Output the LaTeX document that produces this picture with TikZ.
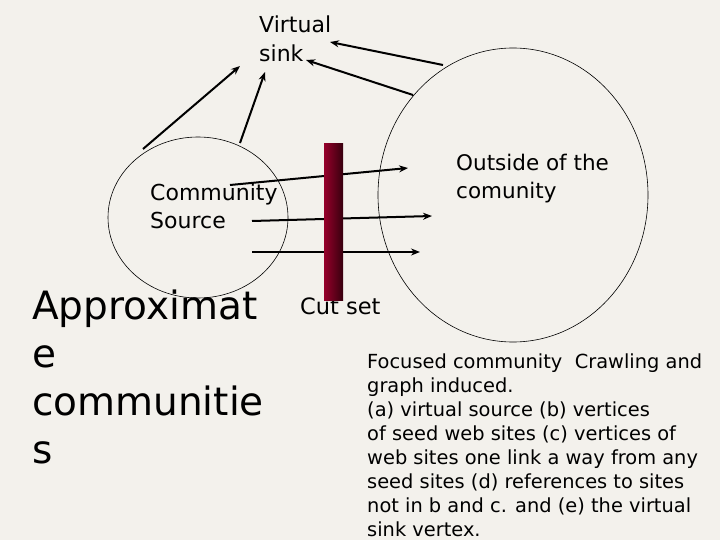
\documentclass[tikz,border=0pt]{standalone}
\usepackage{fontspec}
\setmainfont{DejaVu Sans}
\usetikzlibrary{shapes.geometric,arrows.meta}
\definecolor{bg}{HTML}{F3F1EC}
\definecolor{barL}{RGB}{150,0,42}
\definecolor{barR}{RGB}{55,0,14}
\tikzset{
  ring/.style={draw=black,line width=0.6pt,ellipse,inner sep=0pt},
  arr/.style={draw=black,line width=2pt,-{Stealth[length=9pt,width=7pt]}},
  lbl/.style={inner sep=0pt,anchor=base west,align=left,text=black},
}
\begin{document}
\begin{tikzpicture}[x=1pt,y=-1pt]
\fill[bg] (0,0) rectangle (720,540);
\useasboundingbox (0,0) rectangle (720,540);
% circles
\node[ring,minimum width=180pt,minimum height=161pt] (src) at (198,217.5) {};
\node[ring,minimum width=270pt,minimum height=294pt] (out) at (513,195) {};
% texts (anchored at the baseline of the last line)
\node[lbl,font=\fontsize{22}{29}\selectfont] (vs) at (259,62) {Virtual\\sink};
\node[lbl,font=\fontsize{22}{28}\selectfont] (cs) at (150,229) {Community\\Source};
\node[lbl,font=\fontsize{21.5}{28}\selectfont] (oc) at (456,199) {Outside of the\\comunity};
\node[lbl,font=\fontsize{22.5}{28}\selectfont] (cut) at (300,314) {Cut set};
\node[lbl,font=\fontsize{39}{48}\selectfont] (ap) at (32,463) {Approximat\\e\\communitie\\s};
\node[lbl,font=\fontsize{19.4}{24}\selectfont] (desc) at (367,536) {Focused community\ \ Crawling and\\graph induced.\\(a) virtual source (b) vertices\\of seed web sites (c) vertices of\\web sites one link a way from any\\seed sites (d) references to sites\\not in b and c. and (e) the virtual\\sink vertex.};
% arrow end points
\coordinate (a1s) at (143,149);
\coordinate (a1e) at (240,66);
\coordinate (a2s) at (240,143);
\coordinate (a2e) at (265,72);
\coordinate (a3s) at (443,65);
\coordinate (a3e) at (330,42);
\coordinate (a4s) at (413,95);
\coordinate (a4e) at (306,60);
\coordinate (h1s) at (230,185);
\coordinate (h1e) at (408,168);
\coordinate (h2s) at (252,221);
\coordinate (h2e) at (432,216);
\coordinate (h3s) at (252,252);
\coordinate (h3e) at (420,252);
\draw[arr] (a1s) -- (a1e);
\draw[arr] (a2s) -- (a2e);
\draw[arr] (a3s) -- (a3e);
\draw[arr] (a4s) -- (a4e);
\draw[arr] (h1s) -- (h1e);
\draw[arr] (h2s) -- (h2e);
\draw[arr] (h3s) -- (h3e);
% cut bar
\shade[left color=barL,right color=barR,shading angle=90] (324,144) rectangle (343,300);
\node[inner sep=0pt,minimum width=19pt,minimum height=156pt] (bar) at (333.5,222) {};
\end{tikzpicture}
\end{document}
